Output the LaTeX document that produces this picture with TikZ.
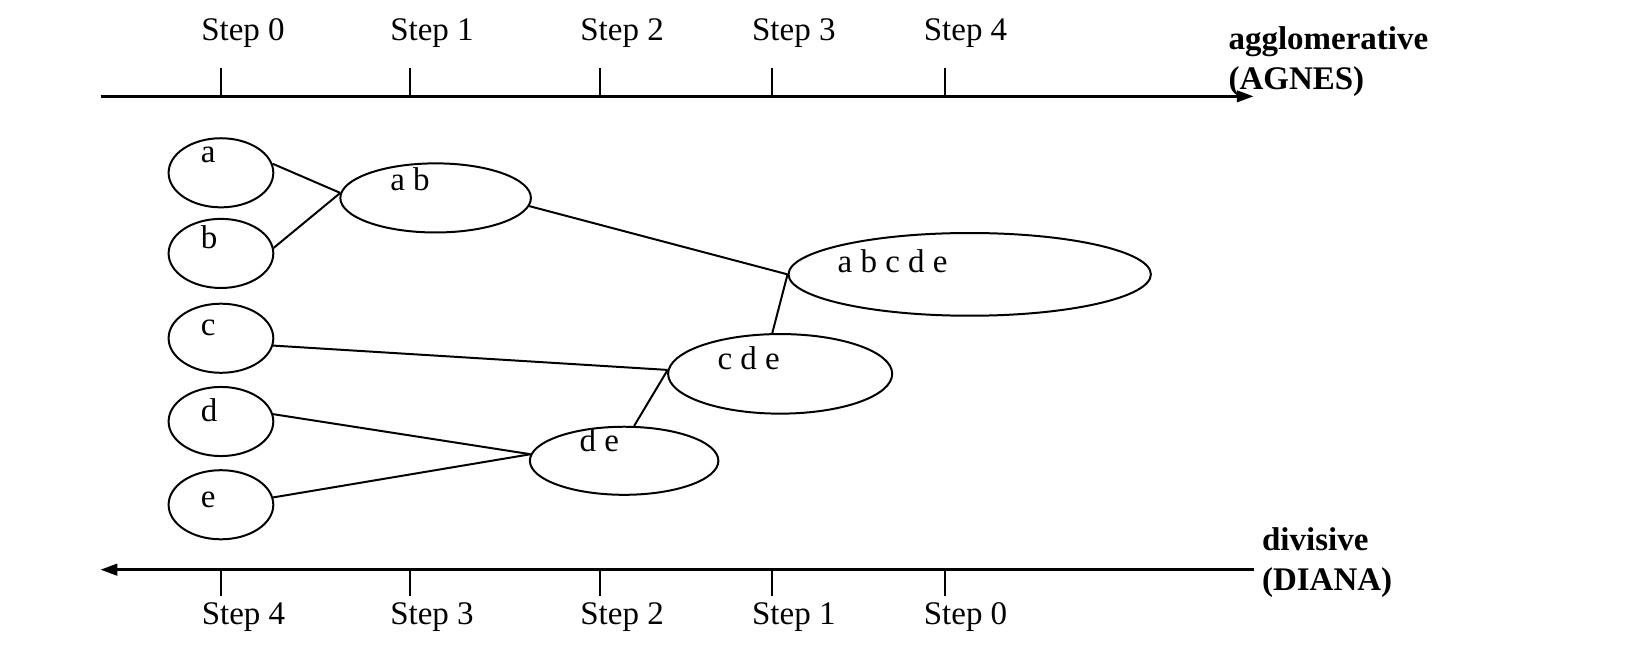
\documentclass[tikz,border=0pt]{standalone}
\usepackage{fontspec}
\setmainfont{Liberation Serif}
\usetikzlibrary{arrows.meta,shapes.geometric}
\begin{document}
\begin{tikzpicture}[x=1pt,y=-1pt,
  clus/.style={ellipse,draw,line width=1.9pt,inner sep=0pt},
  lbl/.style={anchor=base west,inner sep=0pt,font=\fontsize{31.5}{37}\selectfont},
  blbl/.style={anchor=base west,inner sep=0pt,font=\fontsize{31.5}{37}\selectfont\bfseries},
  axisline/.style={line width=2.6pt},
  ticksty/.style={line width=2pt},
  link/.style={line width=1.9pt},
  tip/.style={-{Triangle[length=16pt,width=11pt]}}]
\useasboundingbox (0,0) rectangle (1568,616);

% axes
\coordinate (tl) at (96,92);
\coordinate (tr) at (1197,92);
\coordinate (bl) at (96,544);
\coordinate (br) at (1197,544);
\draw[axisline,tip] (tl) -- (tr);
\draw[axisline,tip] (br) -- (bl);
\foreach \x/\n in {211/0,391.5/1,573/2,737/3,902/4}{
  \coordinate (tt\n) at (\x,65);
  \coordinate (tb\n) at (\x,92);
  \draw[ticksty] (tt\n) -- (tb\n);
  \coordinate (bt\n) at (\x,544);
  \coordinate (bb\n) at (\x,569);
  \draw[ticksty] (bt\n) -- (bb\n);
}
\node[lbl] (s0t) at (192,39) {Step 0};
\node[lbl] (s1t) at (372.5,39) {Step 1};
\node[lbl] (s2t) at (554,39) {Step 2};
\node[lbl] (s3t) at (718,39) {Step 3};
\node[lbl] (s4t) at (882,39) {Step 4};
\node[lbl] (s4b) at (192.5,596) {Step 4};
\node[lbl] (s3b) at (372.5,596) {Step 3};
\node[lbl] (s2b) at (554,596) {Step 2};
\node[lbl] (s1b) at (718,596) {Step 1};
\node[lbl] (s0b) at (882,596) {Step 0};
\node[blbl] (agg) at (1173,47) {agglomerative};
\node[blbl] (agn) at (1173,85) {(AGNES)};
\node[blbl] (div) at (1205,526) {divisive};
\node[blbl] (dia) at (1205,564) {(DIANA)};

% clusters
\node[clus,minimum width=100pt,minimum height=66pt] (a) at (211,165) {};
\node[clus,minimum width=100pt,minimum height=66pt] (b) at (211,242) {};
\node[clus,minimum width=100pt,minimum height=66pt] (c) at (211,323) {};
\node[clus,minimum width=100pt,minimum height=66pt] (d) at (211,402.5) {};
\node[clus,minimum width=100pt,minimum height=66pt] (e) at (211,482) {};
\node[clus,minimum width=182pt,minimum height=66pt] (ab) at (416,189) {};
\node[clus,minimum width=346pt,minimum height=79pt] (abcde) at (926,262) {};
\node[clus,minimum width=214pt,minimum height=76pt] (cde) at (745,357) {};
\node[clus,minimum width=180pt,minimum height=65pt] (de) at (596,440) {};

\node[lbl] (ta) at (191.7,155.5) {a};
\node[lbl] (tb) at (191.7,237.5) {b};
\node[lbl] (tc) at (191.7,320) {c};
\node[lbl] (td) at (191.7,402.5) {d};
\node[lbl] (te) at (191.7,485) {e};
\node[lbl] (tab) at (372.5,181.5) {a b};
\node[lbl] (tabcde) at (799.7,260.5) {a b c d e};
\node[lbl] (tcde) at (685,352.5) {c d e};
\node[lbl] (tde) at (553.3,431.5) {d e};

% links
\draw[link] (a.10) -- (ab.177);
\draw[link] (b.6) -- (ab.177);
\draw[link] (ab.-5) -- (abcde.west);
\draw[link] (cde.101) -- (abcde.west);
\draw[link] (c.-8) -- (cde.178);
\draw[link] (de.74) -- (cde.178);
\draw[link] (d.8) -- (de.176);
\draw[link] (e.8) -- (de.176);
\end{tikzpicture}
\end{document}
